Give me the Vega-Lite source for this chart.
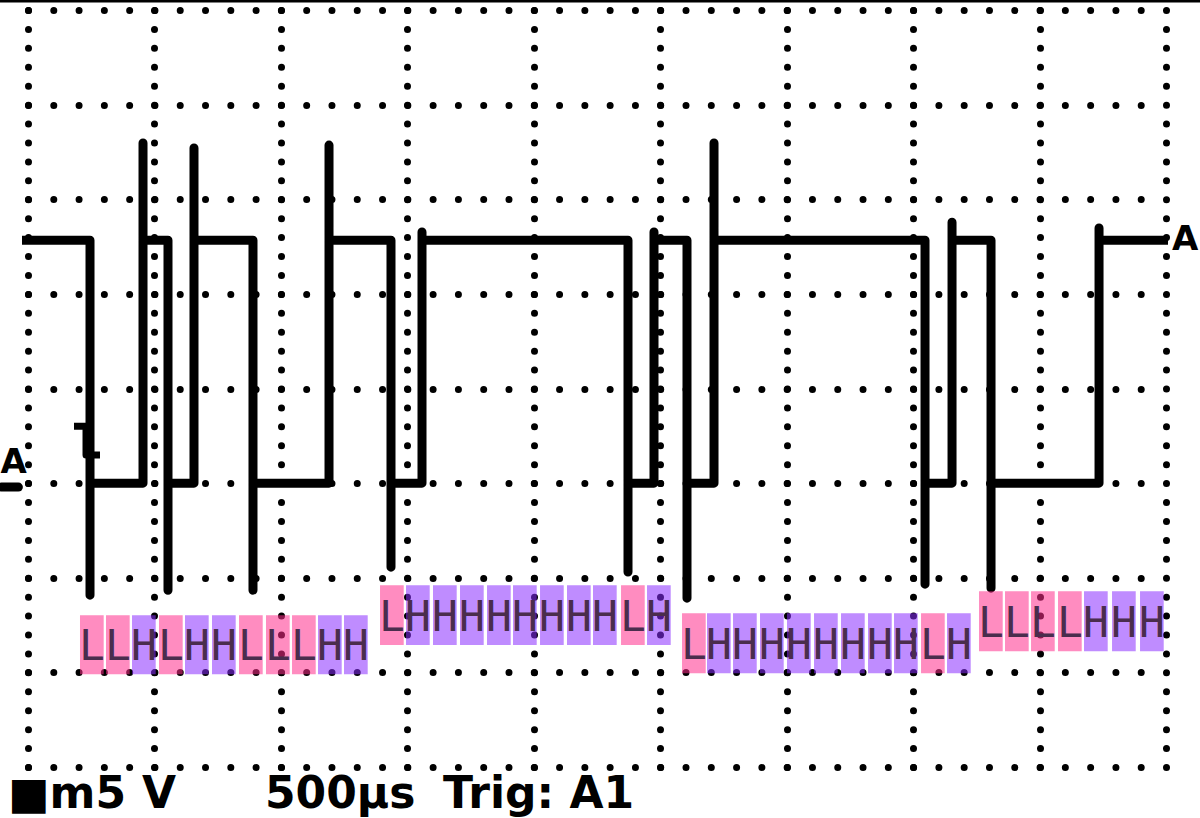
{
  "$schema": "https://vega.github.io/schema/vega-lite/v6.json",
  "width": 1138,
  "height": 757,
  "autosize": {"type": "none"},
  "padding": {"left": 28, "top": 10, "right": 34, "bottom": 51},
  "background": "white",
  "view": {"stroke": null},
  "config": {
    "axis": {"labels": false, "ticks": false, "domain": false, "title": null, "grid": true, "gridColor": "black", "gridOpacity": 1, "gridWidth": 7, "gridCap": "round"},
    "axisX": {"gridDash": [0, 18.925]},
    "axisY": {"gridDash": [0, 25.2889]}
  },
  "datasets": {
    "wave": [
      {"i": 1, "t": -23.7, "v": 12.84},
      {"i": 2, "t": 245.2, "v": 12.84},
      {"i": 3, "t": 245.2, "v": -5.92},
      {"i": 4, "t": 245.2, "v": 0},
      {"i": 5, "t": 454.8, "v": 0},
      {"i": 6, "t": 454.8, "v": 17.97},
      {"i": 7, "t": 454.8, "v": 12.84},
      {"i": 8, "t": 553.6, "v": 12.84},
      {"i": 9, "t": 553.6, "v": -5.66},
      {"i": 10, "t": 553.6, "v": 0},
      {"i": 11, "t": 656.4, "v": 0},
      {"i": 12, "t": 656.4, "v": 17.71},
      {"i": 13, "t": 656.4, "v": 12.84},
      {"i": 14, "t": 889.7, "v": 12.84},
      {"i": 15, "t": 889.7, "v": -5.66},
      {"i": 16, "t": 889.7, "v": 0},
      {"i": 17, "t": 1190.3, "v": 0},
      {"i": 18, "t": 1190.3, "v": 17.86},
      {"i": 19, "t": 1190.3, "v": 12.84},
      {"i": 20, "t": 1435.4, "v": 12.84},
      {"i": 21, "t": 1435.4, "v": -4.44},
      {"i": 22, "t": 1435.4, "v": 0},
      {"i": 23, "t": 1558.0, "v": 0},
      {"i": 24, "t": 1558.0, "v": 13.27},
      {"i": 25, "t": 1558.0, "v": 12.84},
      {"i": 26, "t": 2372.6, "v": 12.84},
      {"i": 27, "t": 2372.6, "v": -4.70},
      {"i": 28, "t": 2372.6, "v": 0},
      {"i": 29, "t": 2475.4, "v": 0},
      {"i": 30, "t": 2475.4, "v": 13.27},
      {"i": 31, "t": 2475.4, "v": 12.84},
      {"i": 32, "t": 2605.9, "v": 12.84},
      {"i": 33, "t": 2605.9, "v": -6.08},
      {"i": 34, "t": 2605.9, "v": 0},
      {"i": 35, "t": 2712.7, "v": 0},
      {"i": 36, "t": 2712.7, "v": 17.97},
      {"i": 37, "t": 2712.7, "v": 12.84},
      {"i": 38, "t": 3547.1, "v": 12.84},
      {"i": 39, "t": 3547.1, "v": -5.34},
      {"i": 40, "t": 3547.1, "v": 0},
      {"i": 41, "t": 3653.9, "v": 0},
      {"i": 42, "t": 3653.9, "v": 13.79},
      {"i": 43, "t": 3653.9, "v": 12.84},
      {"i": 44, "t": 3808.1, "v": 12.84},
      {"i": 45, "t": 3808.1, "v": -5.55},
      {"i": 46, "t": 3808.1, "v": 0},
      {"i": 47, "t": 4235.2, "v": 0},
      {"i": 48, "t": 4235.2, "v": 13.48},
      {"i": 49, "t": 4235.2, "v": 12.84},
      {"i": 50, "t": 4508.0, "v": 12.84}
    ],
    "marker": [
      {"i": 1, "t": 181.9, "v": 3.01},
      {"i": 2, "t": 229.4, "v": 3.01},
      {"i": 3, "t": 229.4, "v": 1.48},
      {"i": 4, "t": 284.7, "v": 1.48}
    ],
    "topline": [{"t": -110.7, "t2": 4634.5, "v": 25.47}],
    "groundbar": [{"t": -105, "t2": -38, "v": -0.21}],
    "boxes": [
      {"label": "L", "t0": 205.6, "t1": 299.3, "vtop": -6.98, "vbot": -10.10},
      {"label": "L", "t0": 308.4, "t1": 402.1, "vtop": -6.98, "vbot": -10.10},
      {"label": "H", "t0": 411.3, "t1": 505.0, "vtop": -6.98, "vbot": -10.10},
      {"label": "L", "t0": 518.0, "t1": 611.7, "vtop": -6.98, "vbot": -10.10},
      {"label": "H", "t0": 620.8, "t1": 714.5, "vtop": -6.98, "vbot": -10.10},
      {"label": "H", "t0": 727.6, "t1": 821.3, "vtop": -6.98, "vbot": -10.10},
      {"label": "L", "t0": 834.4, "t1": 928.1, "vtop": -6.98, "vbot": -10.10},
      {"label": "L", "t0": 941.1, "t1": 1034.8, "vtop": -6.98, "vbot": -10.10},
      {"label": "L", "t0": 1044.0, "t1": 1137.7, "vtop": -6.98, "vbot": -10.10},
      {"label": "H", "t0": 1146.8, "t1": 1240.5, "vtop": -6.98, "vbot": -10.10},
      {"label": "H", "t0": 1249.6, "t1": 1343.3, "vtop": -6.98, "vbot": -10.10},
      {"label": "L", "t0": 1392.0, "t1": 1485.7, "vtop": -5.39, "vbot": -8.56},
      {"label": "H", "t0": 1494.8, "t1": 1588.5, "vtop": -5.39, "vbot": -8.56},
      {"label": "H", "t0": 1601.5, "t1": 1695.2, "vtop": -5.39, "vbot": -8.56},
      {"label": "H", "t0": 1708.3, "t1": 1802.0, "vtop": -5.39, "vbot": -8.56},
      {"label": "H", "t0": 1815.1, "t1": 1908.8, "vtop": -5.39, "vbot": -8.56},
      {"label": "H", "t0": 1917.9, "t1": 2011.6, "vtop": -5.39, "vbot": -8.56},
      {"label": "H", "t0": 2024.7, "t1": 2118.4, "vtop": -5.39, "vbot": -8.56},
      {"label": "H", "t0": 2131.4, "t1": 2225.1, "vtop": -5.39, "vbot": -8.56},
      {"label": "H", "t0": 2234.2, "t1": 2327.9, "vtop": -5.39, "vbot": -8.56},
      {"label": "L", "t0": 2345.0, "t1": 2438.7, "vtop": -5.39, "vbot": -8.56},
      {"label": "H", "t0": 2447.8, "t1": 2541.5, "vtop": -5.39, "vbot": -8.56},
      {"label": "L", "t0": 2586.2, "t1": 2679.9, "vtop": -6.87, "vbot": -10.04},
      {"label": "H", "t0": 2685.0, "t1": 2778.7, "vtop": -6.87, "vbot": -10.04},
      {"label": "H", "t0": 2787.9, "t1": 2881.6, "vtop": -6.87, "vbot": -10.04},
      {"label": "H", "t0": 2894.6, "t1": 2988.3, "vtop": -6.87, "vbot": -10.04},
      {"label": "H", "t0": 3001.4, "t1": 3095.1, "vtop": -6.87, "vbot": -10.04},
      {"label": "H", "t0": 3108.2, "t1": 3201.9, "vtop": -6.87, "vbot": -10.04},
      {"label": "H", "t0": 3214.9, "t1": 3308.6, "vtop": -6.87, "vbot": -10.04},
      {"label": "H", "t0": 3321.7, "t1": 3415.4, "vtop": -6.87, "vbot": -10.04},
      {"label": "H", "t0": 3424.5, "t1": 3518.2, "vtop": -6.87, "vbot": -10.04},
      {"label": "L", "t0": 3531.3, "t1": 3625.0, "vtop": -6.87, "vbot": -10.04},
      {"label": "H", "t0": 3634.1, "t1": 3727.8, "vtop": -6.87, "vbot": -10.04},
      {"label": "L", "t0": 3760.6, "t1": 3854.3, "vtop": -5.71, "vbot": -8.88},
      {"label": "L", "t0": 3863.4, "t1": 3957.1, "vtop": -5.71, "vbot": -8.88},
      {"label": "L", "t0": 3966.3, "t1": 4060.0, "vtop": -5.71, "vbot": -8.88},
      {"label": "L", "t0": 4073.0, "t1": 4166.7, "vtop": -5.71, "vbot": -8.88},
      {"label": "H", "t0": 4175.8, "t1": 4269.5, "vtop": -5.71, "vbot": -8.88},
      {"label": "H", "t0": 4286.6, "t1": 4380.3, "vtop": -5.71, "vbot": -8.88},
      {"label": "H", "t0": 4397.3, "t1": 4491.0, "vtop": -5.71, "vbot": -8.88}
    ],
    "amarks": [
      {"txt": "A", "t": -108.7, "v": 0.53},
      {"txt": "A", "t": 4523.8, "v": 12.32}
    ],
    "status": [
      {"txt": "■m5", "t": -79.1, "v": -17.18},
      {"txt": "V", "t": 450.8, "v": -17.18},
      {"txt": "500µs", "t": 937.2, "v": -17.18},
      {"txt": "Trig: A1", "t": 1641.1, "v": -17.18}
    ]
  },
  "layer": [
    {
      "data": {"name": "wave"},
      "mark": {"type": "line", "color": "black", "strokeWidth": 9, "strokeJoin": "round", "strokeCap": "butt"},
      "encoding": {
        "x": {"field": "t", "type": "quantitative", "title": null, "scale": {"domain": [0, 4500], "nice": false, "zero": false}, "axis": {"values": [0, 500, 1000, 1500, 2000, 2500, 3000, 3500, 4000, 4500]}},
        "y": {"field": "v", "type": "quantitative", "title": null, "scale": {"domain": [-15, 25], "nice": false, "zero": false}, "axis": {"values": [-15, -10, -5, 0, 5, 10, 15, 20, 25]}},
        "order": {"field": "i"}
      }
    },
    {
      "data": {"name": "marker"},
      "mark": {"type": "line", "color": "black", "strokeWidth": 7, "strokeJoin": "round"},
      "encoding": {
        "x": {"field": "t", "type": "quantitative"},
        "y": {"field": "v", "type": "quantitative"},
        "order": {"field": "i"}
      }
    },
    {
      "data": {"name": "topline"},
      "mark": {"type": "rule", "color": "black", "strokeWidth": 3},
      "encoding": {
        "x": {"field": "t", "type": "quantitative"},
        "x2": {"field": "t2"},
        "y": {"field": "v", "type": "quantitative"}
      }
    },
    {
      "data": {"name": "groundbar"},
      "mark": {"type": "rule", "color": "black", "strokeWidth": 9, "strokeCap": "round"},
      "encoding": {
        "x": {"field": "t", "type": "quantitative"},
        "x2": {"field": "t2"},
        "y": {"field": "v", "type": "quantitative"}
      }
    },
    {
      "data": {"name": "boxes"},
      "mark": {"type": "rect", "opacity": 0.55},
      "encoding": {
        "x": {"field": "t0", "type": "quantitative"},
        "x2": {"field": "t1"},
        "y": {"field": "vtop", "type": "quantitative"},
        "y2": {"field": "vbot"},
        "color": {"field": "label", "type": "nominal", "legend": null, "scale": {"domain": ["L", "H"], "range": ["#FF2E8C", "#8B2EFF"]}}
      }
    },
    {
      "data": {"name": "boxes"},
      "mark": {"type": "text", "font": "DejaVu Sans Mono", "fontSize": 43, "color": "#4a2d4d", "align": "center", "baseline": "alphabetic", "dx": 12, "dy": -14},
      "encoding": {
        "x": {"field": "t0", "type": "quantitative"},
        "y": {"field": "vbot", "type": "quantitative"},
        "text": {"field": "label"}
      }
    },
    {
      "data": {"name": "amarks"},
      "mark": {"type": "text", "font": "DejaVu Sans", "fontWeight": "bold", "fontSize": 34, "color": "black", "align": "left", "baseline": "alphabetic"},
      "encoding": {
        "x": {"field": "t", "type": "quantitative"},
        "y": {"field": "v", "type": "quantitative"},
        "text": {"field": "txt"}
      }
    },
    {
      "data": {"name": "status"},
      "mark": {"type": "text", "font": "DejaVu Sans", "fontWeight": "bold", "fontSize": 44, "color": "black", "align": "left", "baseline": "alphabetic"},
      "encoding": {
        "x": {"field": "t", "type": "quantitative"},
        "y": {"field": "v", "type": "quantitative"},
        "text": {"field": "txt"}
      }
    }
  ]
}
